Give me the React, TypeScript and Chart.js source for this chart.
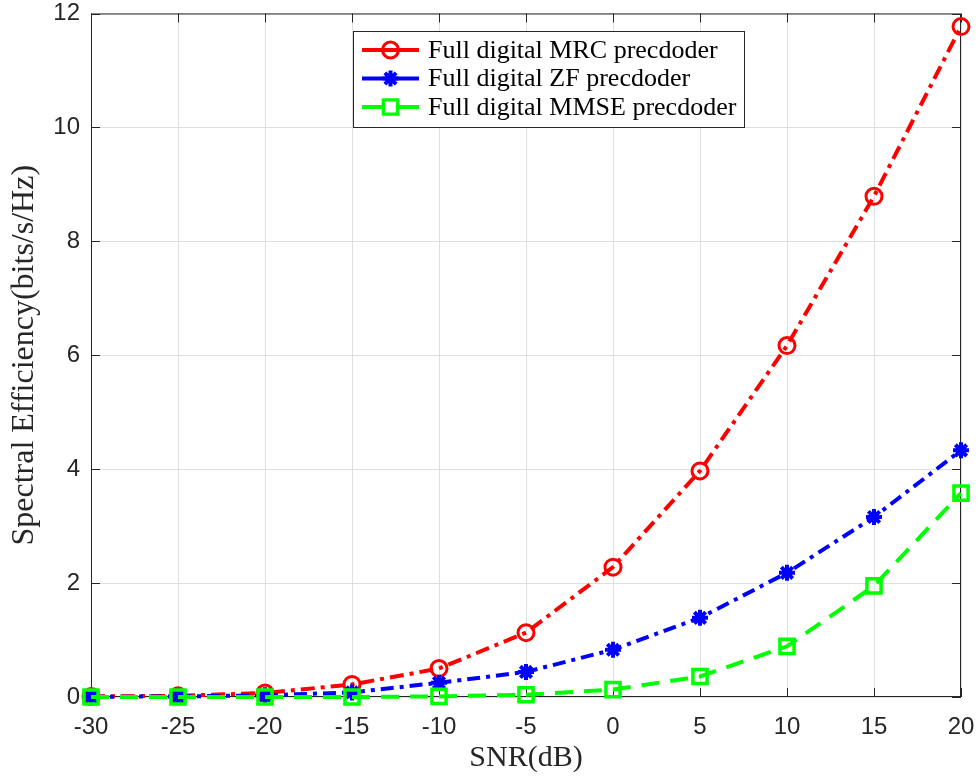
import React, { useEffect, useRef } from "react";
import { Chart, registerables } from "chart.js";

Chart.register(...registerables);

const snr = [-30, -25, -20, -15, -10, -5, 0, 5, 10, 15, 20];
const mrc = [0.01, 0.02, 0.07, 0.22, 0.5, 1.13, 2.28, 3.97, 6.17, 8.79, 11.77];
const zf = [0.003, 0.01, 0.03, 0.08, 0.25, 0.44, 0.83, 1.39, 2.18, 3.16, 4.33];
const mmse = [0.0, 0.0, 0.0, 0.0, 0.01, 0.04, 0.13, 0.36, 0.89, 1.95, 3.58];
const seriesNames = [
  "Full digital MRC precdoder",
  "Full digital ZF precdoder",
  "Full digital MMSE precdoder",
];
const xTicks = [-30, -25, -20, -15, -10, -5, 0, 5, 10, 15, 20];
const yTicks = [0, 2, 4, 6, 8, 10, 12];

const AX = "#262626";

function drawMarker(ctx: CanvasRenderingContext2D, style: string, x: number, y: number, r: number, color: string, lw: number) {
  ctx.save();
  ctx.strokeStyle = color;
  ctx.fillStyle = color;
  ctx.lineWidth = lw;
  ctx.setLineDash([]);
  ctx.beginPath();
  if (style === "circle") {
    ctx.arc(x, y, r, 0, Math.PI * 2);
    ctx.stroke();
  } else if (style === "rect") {
    const s = r * Math.SQRT1_2;
    ctx.rect(x - s, y - s, 2 * s, 2 * s);
    ctx.stroke();
  } else {
    for (let k = 0; k < 4; k++) {
      const a = (k * Math.PI) / 4;
      ctx.moveTo(x - r * Math.cos(a), y - r * Math.sin(a));
      ctx.lineTo(x + r * Math.cos(a), y + r * Math.sin(a));
    }
    ctx.stroke();
  }
  ctx.restore();
}

const frame = {
  id: "frame",
  beforeDatasetsDraw(chart: any) {
    const { ctx, chartArea: a, scales } = chart;
    ctx.save();
    ctx.strokeStyle = AX;
    ctx.lineWidth = 1;
    ctx.setLineDash([]);
    ctx.strokeRect(a.left + 0.5, a.top + 0.5, a.right - a.left - 1, a.bottom - a.top - 1);
    const tl = 9;
    ctx.beginPath();
    xTicks.forEach((v) => {
      const px = Math.round(scales.x.getPixelForValue(v)) + 0.5;
      ctx.moveTo(px, a.bottom);
      ctx.lineTo(px, a.bottom - tl);
      ctx.moveTo(px, a.top);
      ctx.lineTo(px, a.top + tl);
    });
    yTicks.forEach((v) => {
      const py = Math.round(scales.y.getPixelForValue(v)) + 0.5;
      ctx.moveTo(a.left, py);
      ctx.lineTo(a.left + tl, py);
      ctx.moveTo(a.right, py);
      ctx.lineTo(a.right - tl, py);
    });
    ctx.stroke();
    ctx.restore();
  },
};

const legendBox = {
  id: "legendBox",
  afterDraw(chart: any) {
    const { ctx } = chart;
    const x0 = 353, y0 = 31, w = 391, h = 96;
    ctx.save();
    ctx.fillStyle = "#ffffff";
    ctx.fillRect(x0, y0, w, h);
    ctx.strokeStyle = AX;
    ctx.lineWidth = 1;
    ctx.strokeRect(x0 + 0.5, y0 + 0.5, w, h);
    chart.data.datasets.forEach((ds: any, i: number) => {
      const y = 50 + i * 28.5;
      ctx.strokeStyle = ds.borderColor;
      ctx.lineWidth = 4;
      ctx.setLineDash([]);
      ctx.beginPath();
      ctx.moveTo(362, y);
      ctx.lineTo(419, y);
      ctx.stroke();
      drawMarker(ctx, ds.pointStyle, 390.5, y, ds.pointRadius, ds.borderColor, ds.pointBorderWidth);
      if (ds.pointStyle === "rect") {
        ctx.fillStyle = "#ffffff";
        const s = ds.pointRadius * Math.SQRT1_2 - ds.pointBorderWidth / 2;
        ctx.fillRect(390.5 - s, y - s, 2 * s, 2 * s);
      }
      ctx.fillStyle = "#000000";
      ctx.font = "26px 'Liberation Serif', 'Times New Roman', serif";
      ctx.textBaseline = "middle";
      ctx.textAlign = "left";
      ctx.fillText(ds.label, 428, y + 1);
    });
    ctx.restore();
  },
};

export default function App() {
  const ref = useRef<HTMLCanvasElement | null>(null);
  useEffect(() => {
    if (!ref.current) return;
    const mk = (vals: number[]) => snr.map((x, i) => ({ x, y: vals[i] }));
    const chart = new Chart(ref.current, {
      type: "line",
      data: {
        datasets: [
          {
            label: seriesNames[0],
            data: mk(mrc),
            borderColor: "#ff0000",
            backgroundColor: "rgba(0,0,0,0)",
            borderWidth: 4,
            borderDash: [14, 6, 4, 6],
            pointStyle: "circle",
            pointRadius: 8,
            pointBorderWidth: 3,
            pointBackgroundColor: "rgba(0,0,0,0)",
            order: 3,
            clip: false,
          } as any,
          {
            label: seriesNames[1],
            data: mk(zf),
            borderColor: "#0000ff",
            backgroundColor: "#0000ff",
            borderWidth: 4,
            borderDash: [13, 6, 4, 6],
            pointStyle: "star",
            pointRadius: 8,
            pointBorderWidth: 4,
            pointBackgroundColor: "#0000ff",
            order: 2,
            clip: false,
          } as any,
          {
            label: seriesNames[2],
            data: mk(mmse),
            borderColor: "#00ff00",
            backgroundColor: "rgba(0,0,0,0)",
            borderWidth: 4,
            borderDash: [18, 11],
            pointStyle: "rect",
            pointRadius: 10,
            pointBorderWidth: 3.5,
            pointBackgroundColor: "rgba(0,0,0,0)",
            order: 1,
            clip: false,
          } as any,
        ],
      },
      options: {
        responsive: false,
        animation: false,
        devicePixelRatio: 1,
        layout: { padding: { left: 0, top: 13, right: 17, bottom: 0 } },
        plugins: { legend: { display: false }, tooltip: { enabled: false } },
        elements: { line: { tension: 0, borderCapStyle: "butt" } },
        scales: {
          x: {
            type: "linear",
            min: -30,
            max: 20,
            afterFit: (s: any) => { s.height = 84; s.paddingLeft = 0; s.paddingRight = 0; },
            afterBuildTicks: (s: any) => { s.ticks = xTicks.map((v) => ({ value: v })); },
            grid: { color: "#dfdfdf", lineWidth: 1, drawTicks: false },
            border: { display: false },
            ticks: {
              padding: 16,
              color: AX,
              font: { family: "'Liberation Sans', Arial, sans-serif", size: 24 },
              maxRotation: 0,
              callback: (v: any) => String(v),
            },
            title: {
              display: true,
              text: "SNR(dB)",
              color: AX,
              font: { family: "'Liberation Serif', 'Times New Roman', serif", size: 30 },
              padding: { top: 0, bottom: 5 },
            },
          },
          y: {
            type: "linear",
            min: 0,
            max: 12,
            afterFit: (s: any) => { s.width = 91; s.paddingTop = 0; s.paddingBottom = 0; },
            afterBuildTicks: (s: any) => { s.ticks = yTicks.map((v) => ({ value: v })); },
            grid: { color: "#dfdfdf", lineWidth: 1, drawTicks: false },
            border: { display: false },
            ticks: {
              padding: 11,
              color: AX,
              font: { family: "'Liberation Sans', Arial, sans-serif", size: 24 },
              callback: (v: any) => String(v),
            },
            title: {
              display: true,
              text: "Spectral Efficiency(bits/s/Hz)",
              color: AX,
              font: { family: "'Liberation Serif', 'Times New Roman', serif", size: 32 },
              padding: { top: 5, bottom: 0 },
            },
          },
        },
      } as any,
      plugins: [frame, legendBox],
    });
    return () => chart.destroy();
  }, []);
  return (
    <div style={{ position: "fixed", left: 0, top: 0, width: 978, height: 781, background: "#ffffff" }}>
      <canvas ref={ref} width={978} height={781} style={{ display: "block", width: 978, height: 781 }} />
    </div>
  );
}
